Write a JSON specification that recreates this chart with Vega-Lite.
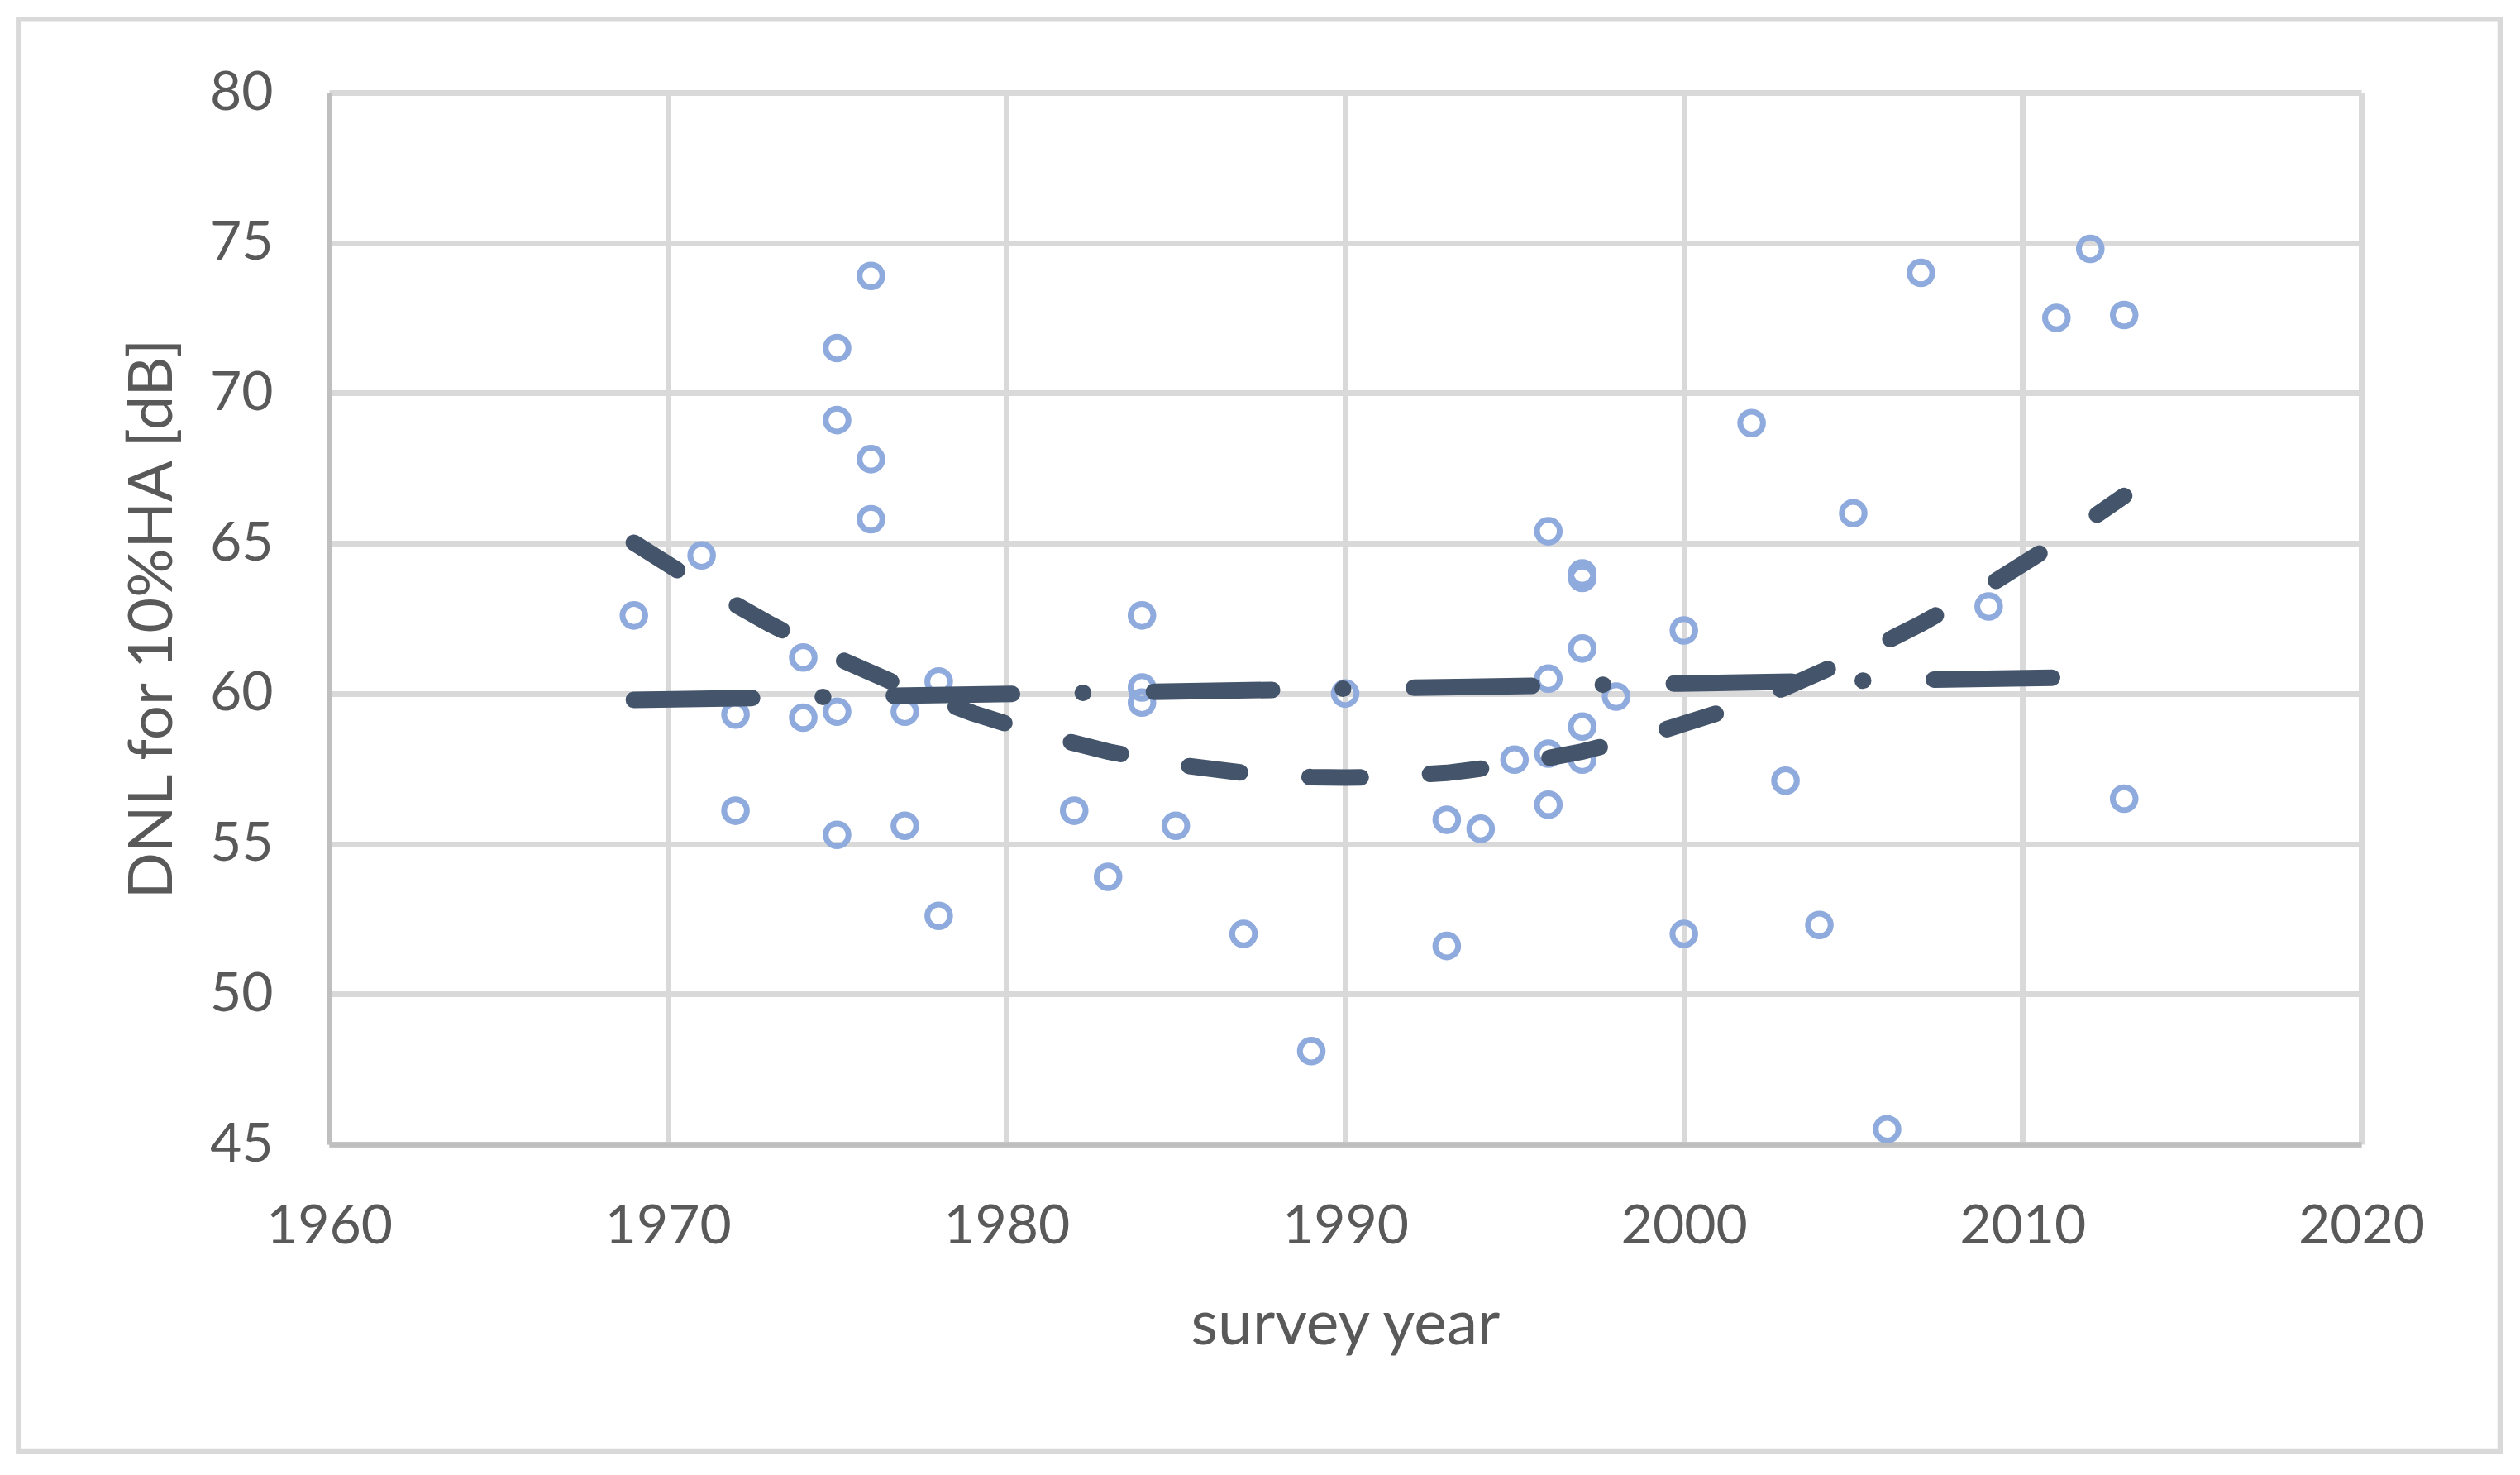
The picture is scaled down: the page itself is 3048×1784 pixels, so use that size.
{
  "$schema": "https://vega.github.io/schema/vega-lite/v6.json",
  "width": 2458,
  "height": 1272,
  "autosize": {"type": "none"},
  "padding": {"left": 398, "top": 112, "right": 192, "bottom": 400},
  "background": "white",
  "config": {"view": {"stroke": null}, "font": "Lato"},
  "datasets": {
    "points": [
      {"year": 1969, "dnl": 62.6}, {"year": 1971, "dnl": 64.6}, {"year": 1972, "dnl": 59.3}, {"year": 1972, "dnl": 56.1},
      {"year": 1974, "dnl": 61.2}, {"year": 1974, "dnl": 59.2}, {"year": 1975, "dnl": 71.5}, {"year": 1975, "dnl": 69.1},
      {"year": 1975, "dnl": 59.4}, {"year": 1975, "dnl": 55.3}, {"year": 1976, "dnl": 73.9}, {"year": 1976, "dnl": 67.8},
      {"year": 1976, "dnl": 65.8}, {"year": 1977, "dnl": 59.4}, {"year": 1977, "dnl": 55.6}, {"year": 1978, "dnl": 60.4},
      {"year": 1978, "dnl": 52.6}, {"year": 1982, "dnl": 56.1}, {"year": 1983, "dnl": 53.9}, {"year": 1984, "dnl": 62.6},
      {"year": 1984, "dnl": 60.2}, {"year": 1984, "dnl": 59.7}, {"year": 1985, "dnl": 55.6}, {"year": 1987, "dnl": 52.0},
      {"year": 1989, "dnl": 48.1}, {"year": 1990, "dnl": 60.0}, {"year": 1993, "dnl": 55.8}, {"year": 1993, "dnl": 51.6},
      {"year": 1994, "dnl": 55.5}, {"year": 1995, "dnl": 57.8}, {"year": 1996, "dnl": 65.4}, {"year": 1996, "dnl": 60.5},
      {"year": 1996, "dnl": 58.0}, {"year": 1996, "dnl": 56.3}, {"year": 1997, "dnl": 64.0}, {"year": 1997, "dnl": 63.85},
      {"year": 1997, "dnl": 61.5}, {"year": 1997, "dnl": 58.9}, {"year": 1997, "dnl": 57.8}, {"year": 1998, "dnl": 59.9},
      {"year": 2000, "dnl": 62.1}, {"year": 2000, "dnl": 52.0}, {"year": 2002, "dnl": 69.0}, {"year": 2003, "dnl": 57.1},
      {"year": 2004, "dnl": 52.3}, {"year": 2005, "dnl": 66.0}, {"year": 2006, "dnl": 45.5}, {"year": 2007, "dnl": 74.0},
      {"year": 2009, "dnl": 62.9}, {"year": 2011, "dnl": 72.5}, {"year": 2012, "dnl": 74.8}, {"year": 2013, "dnl": 72.6},
      {"year": 2013, "dnl": 56.5}
    ],
    "poly": [
      {"year": 1969, "dnl": 65.02}, {"year": 1971, "dnl": 63.60}, {"year": 1973, "dnl": 62.32}, {"year": 1975, "dnl": 61.19},
      {"year": 1977, "dnl": 60.20}, {"year": 1979, "dnl": 59.35}, {"year": 1981, "dnl": 58.64}, {"year": 1983, "dnl": 58.07},
      {"year": 1985, "dnl": 57.64}, {"year": 1987, "dnl": 57.36}, {"year": 1989, "dnl": 57.22}, {"year": 1990, "dnl": 57.20},
      {"year": 1991, "dnl": 57.22}, {"year": 1993, "dnl": 57.36}, {"year": 1995, "dnl": 57.64}, {"year": 1997, "dnl": 58.07},
      {"year": 1999, "dnl": 58.64}, {"year": 2001, "dnl": 59.35}, {"year": 2003, "dnl": 60.20}, {"year": 2005, "dnl": 61.19},
      {"year": 2007, "dnl": 62.32}, {"year": 2009, "dnl": 63.60}, {"year": 2011, "dnl": 65.02}, {"year": 2013, "dnl": 66.58}
    ],
    "linear": [
      {"year": 1969, "dnl": 59.79}, {"year": 2011, "dnl": 60.53}
    ],
    "frame": [{"x1": 1950.83, "x2": 2024.1, "y1": 82.44, "y2": 34.79}]
  },
  "layer": [
    {
      "data": {"name": "frame"},
      "mark": {"type": "rect", "fill": null, "stroke": "#d9d9d9", "strokeWidth": 6.5, "clip": false},
      "encoding": {
        "x": {"field": "x1", "type": "quantitative", "scale": {"domain": [1960, 2020], "nice": false, "zero": false}},
        "x2": {"field": "x2"},
        "y": {"field": "y1", "type": "quantitative", "scale": {"domain": [45, 80], "nice": false, "zero": false}},
        "y2": {"field": "y2"}
      }
    },
    {
      "data": {"name": "points"},
      "mark": {"type": "point", "shape": "circle", "filled": false, "stroke": "#8faadc", "strokeWidth": 7, "size": 760, "opacity": 1},
      "encoding": {
        "x": {
          "field": "year", "type": "quantitative",
          "scale": {"domain": [1960, 2020], "nice": false, "zero": false},
          "axis": {
            "title": "survey year", "values": [1960, 1970, 1980, 1990, 2000, 2010, 2020], "format": "d",
            "labelFlush": false, "labelOverlap": false, "ticks": false, "tickSize": 0,
            "labelFont": "Lato", "labelFontSize": 66, "labelColor": "#595959", "labelPadding": 67,
            "titleFont": "Lato", "titleFontSize": 75, "titleFontWeight": "normal", "titleColor": "#595959", "titlePadding": 50,
            "domainColor": "#bfbfbf", "domainWidth": 6.7,
            "grid": true, "gridColor": "#d9d9d9", "gridWidth": 7
          }
        },
        "y": {
          "field": "dnl", "type": "quantitative",
          "scale": {"domain": [45, 80], "nice": false, "zero": false},
          "axis": {
            "title": "DNL for 10%HA [dB]", "values": [45, 50, 55, 60, 65, 70, 75, 80],
            "labelFlush": false, "labelOverlap": false, "ticks": false, "tickSize": 0,
            "labelFont": "Lato", "labelFontSize": 66, "labelColor": "#595959", "labelPadding": 68,
            "titleFont": "Lato", "titleFontSize": 74, "titleFontWeight": "normal", "titleColor": "#595959", "titlePadding": 30,
            "domainColor": "#bfbfbf", "domainWidth": 6.7,
            "grid": true, "gridColor": "#d9d9d9", "gridWidth": 7
          }
        }
      }
    },
    {
      "data": {"name": "poly"},
      "mark": {"type": "line", "color": "#44546a", "strokeWidth": 20, "strokeCap": "round", "strokeDash": [62, 84]},
      "encoding": {
        "x": {"field": "year", "type": "quantitative"},
        "y": {"field": "dnl", "type": "quantitative"}
      }
    },
    {
      "data": {"name": "linear"},
      "mark": {"type": "line", "color": "#44546a", "strokeWidth": 20, "strokeCap": "round", "strokeDash": [143, 85.5, 0.5, 85.5]},
      "encoding": {
        "x": {"field": "year", "type": "quantitative"},
        "y": {"field": "dnl", "type": "quantitative"}
      }
    }
  ]
}
